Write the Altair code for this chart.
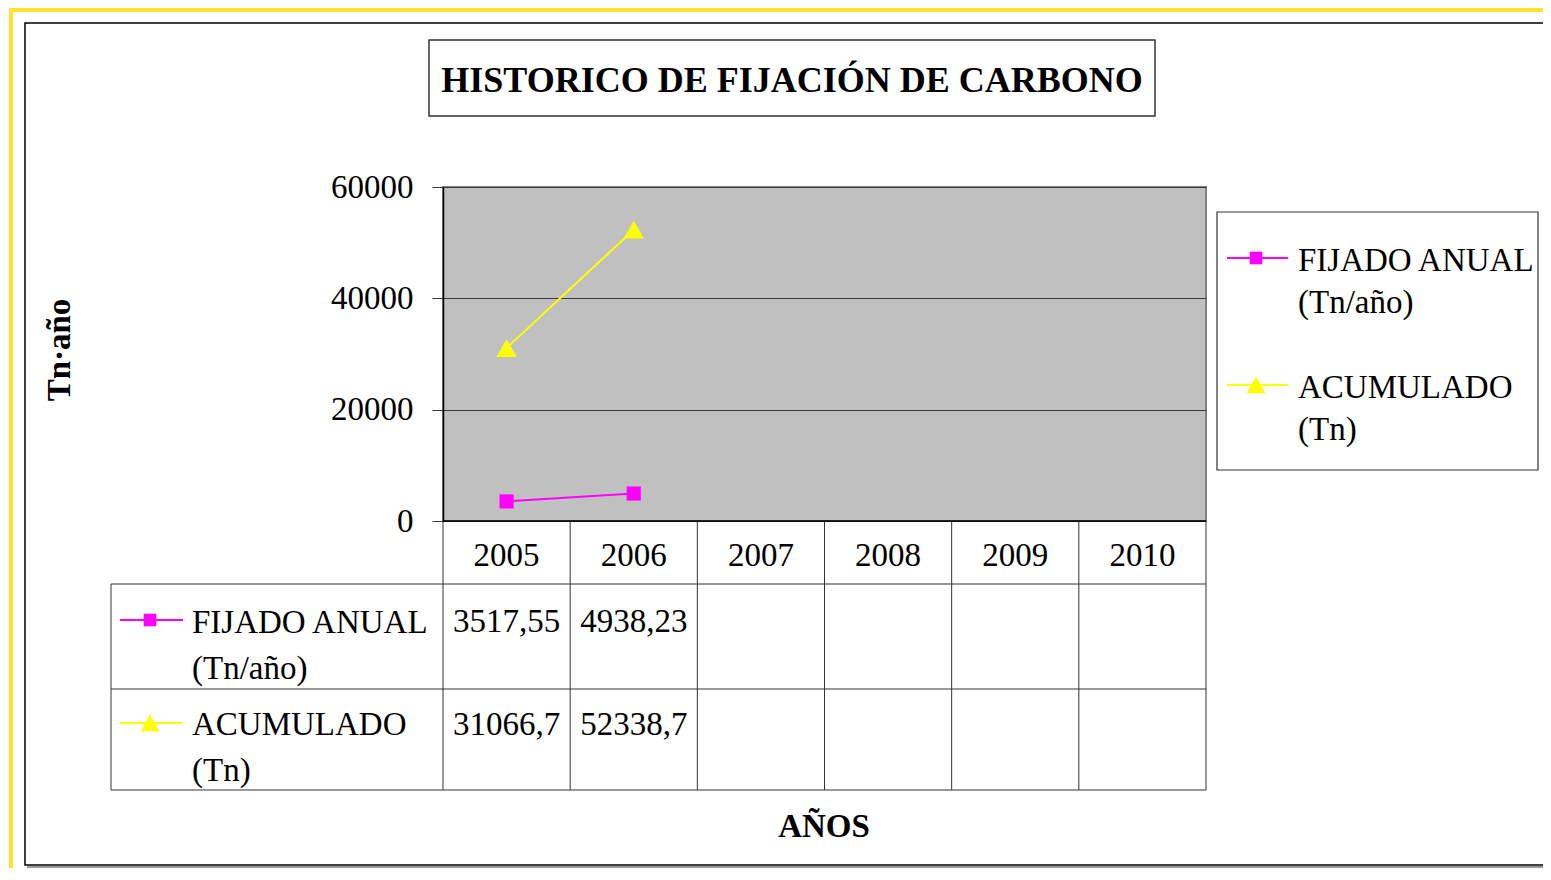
import altair as alt
import pandas as pd

# ---------------- data ----------------
years = ["2005", "2006", "2007", "2008", "2009", "2010"]
data_years = ["2005", "2006"]
series_names = ["FIJADO ANUAL (Tn/año)", "ACUMULADO (Tn)"]
series_lines = [["FIJADO ANUAL", "(Tn/año)"], ["ACUMULADO", "(Tn)"]]
fijado_anual = [3517.55, 4938.23]
acumulado = [31066.7, 52338.7]
series_values = [fijado_anual, acumulado]
series_colors = ["#FF00FF", "#FFFF00"]
series_shapes = ["square", "triangle-up"]
y_ticks = [0, 20000, 40000, 60000]
title_text = "HISTORICO DE FIJACIÓN DE CARBONO"
y_title = "Tn·año"
x_title = "AÑOS"

rows = []
for name, vals in zip(series_names, series_values):
    for yr, v in zip(data_years, vals):
        rows.append({"year": yr, "serie": name, "value": v,
                     "label": str(v).replace(".", ",")})
df = pd.DataFrame(rows)
years_df = pd.DataFrame({"year": years})
one = pd.DataFrame({"k": [0]})

FONT = "Liberation Serif"
FS = 33
W, H = 763, 334
GRID = "#3a3a3a"
PLOT_SIZES = [200, 420]
LEG_SIZES = [160, 360]

xscale = alt.Scale(type="band", domain=years, paddingInner=0, paddingOuter=0)
cscale = alt.Scale(domain=series_names, range=series_colors)
sscale = alt.Scale(domain=series_names, range=series_shapes)
zscale = alt.Scale(domain=series_names, range=PLOT_SIZES)

layers = []

# ---- outer decorations ----
layers.append(alt.Chart(one).mark_rule(color="#FFE22E", strokeWidth=4).encode(
    x=alt.value(-432), y=alt.value(-180), y2=alt.value(700)))
layers.append(alt.Chart(one).mark_rule(color="#FFE22E", strokeWidth=4).encode(
    x=alt.value(-434), x2=alt.value(1200), y=alt.value(-177)))
layers.append(alt.Chart(one).mark_rule(color="#9a9a9a", strokeWidth=2).encode(
    x=alt.value(-416), x2=alt.value(1200), y=alt.value(680)))
layers.append(alt.Chart(one).mark_rect(fill="transparent", stroke="black", strokeWidth=1.5).encode(
    x=alt.value(-418), x2=alt.value(1200), y=alt.value(-164), y2=alt.value(678)))

# ---- title box ----
layers.append(alt.Chart(one).mark_rect(fill="white", stroke="#333333", strokeWidth=1.5).encode(
    x=alt.value(-14), x2=alt.value(712), y=alt.value(-147), y2=alt.value(-71)))
layers.append(alt.Chart(one).mark_text(font=FONT, fontSize=36, fontWeight="bold",
                                       align="center", baseline="alphabetic", color="black").encode(
    x=alt.value(349), y=alt.value(-95), text=alt.value(title_text)))

# ---- axis titles ----
layers.append(alt.Chart(one).mark_text(font=FONT, fontSize=33, fontWeight="bold", angle=270,
                                       align="center", baseline="middle", color="black").encode(
    x=alt.value(-383), y=alt.value(163), text=alt.value(y_title)))
layers.append(alt.Chart(one).mark_text(font=FONT, fontSize=33, fontWeight="bold",
                                       align="center", baseline="middle", color="black").encode(
    x=alt.value(381), y=alt.value(640), text=alt.value(x_title)))

# ---- data table grid ----
TC = "#333333"
T0, T1, T2, T3 = H, H + 63, H + 168, H + 269
layers.append(alt.Chart(years_df).mark_rule(color=TC, strokeWidth=1).encode(
    x=alt.X("year:N", scale=xscale, bandPosition=0, axis=None),
    y=alt.value(T0), y2=alt.value(T3)))
layers.append(alt.Chart(one).mark_rule(color=TC, strokeWidth=1).encode(
    x=alt.value(W), y=alt.value(T0), y2=alt.value(T3)))
layers.append(alt.Chart(one).mark_rule(color=TC, strokeWidth=1).encode(
    x=alt.value(-332), y=alt.value(T1), y2=alt.value(T3)))
for yy in (T1, T2, T3):
    layers.append(alt.Chart(one).mark_rule(color=TC, strokeWidth=1).encode(
        x=alt.value(-332), x2=alt.value(W), y=alt.value(yy)))
# x axis line
layers.append(alt.Chart(one).mark_rule(color="black", strokeWidth=1.5).encode(
    x=alt.value(0), x2=alt.value(W), y=alt.value(H)))

# year labels (category axis row of the table)
layers.append(alt.Chart(years_df).mark_text(font=FONT, fontSize=FS, align="center",
                                            baseline="alphabetic", color="black").encode(
    x=alt.X("year:N", scale=xscale, axis=None), y=alt.value(H + 45), text="year:N"))

# ---- lines and points ----
base = alt.Chart(df).encode(
    x=alt.X("year:N", scale=xscale, axis=None),
    y=alt.Y("value:Q", scale=alt.Scale(domain=[0, 60000], nice=False), title=None,
            axis=alt.Axis(values=y_ticks, format="d", labelFont=FONT, labelFontSize=FS,
                          labelColor="black", tickSize=11, tickColor=GRID, labelPadding=19,
                          domainColor="black", domainWidth=1.5, gridColor=GRID, gridWidth=1.2)),
    color=alt.Color("serie:N", scale=cscale, legend=None),
)
layers.append(base.mark_line(strokeWidth=2))
layers.append(base.mark_point(filled=True, opacity=1).encode(
    shape=alt.Shape("serie:N", scale=sscale, legend=None),
    size=alt.Size("serie:N", scale=zscale, legend=None)))

# ---- data table rows and legend ----
for i, (name, lines, col, shp) in enumerate(zip(series_names, series_lines,
                                                series_colors, series_shapes)):
    layers.append(alt.Chart(df).transform_filter(alt.datum.serie == name).mark_text(
        font=FONT, fontSize=FS, align="center", baseline="alphabetic", color="black").encode(
        x=alt.X("year:N", scale=xscale, axis=None),
        y=alt.value(445 + 103 * i), text="label:N"))
    ty = 433 + 103 * i
    layers.append(alt.Chart(one).mark_rule(color=col, strokeWidth=2).encode(
        x=alt.value(-323), x2=alt.value(-260), y=alt.value(ty)))
    layers.append(alt.Chart(one).mark_point(shape=shp, filled=True, size=LEG_SIZES[i],
                                            color=col, opacity=1).encode(
        x=alt.value(-293), y=alt.value(ty)))
    layers.append(alt.Chart(one).mark_text(font=FONT, fontSize=FS, align="left", baseline="alphabetic",
                                           lineBreak="\n", lineHeight=46, color="black").encode(
        x=alt.value(-251), y=alt.value(446 + 102 * i), text=alt.value("\n".join(lines))))

# legend box
layers.append(alt.Chart(one).mark_rect(fill="white", stroke="#333333", strokeWidth=1.2).encode(
    x=alt.value(774), x2=alt.value(1095), y=alt.value(25), y2=alt.value(283)))
for i, (name, lines, col, shp) in enumerate(zip(series_names, series_lines,
                                                series_colors, series_shapes)):
    ly = 71 + 127 * i
    layers.append(alt.Chart(one).mark_rule(color=col, strokeWidth=2).encode(
        x=alt.value(784), x2=alt.value(845), y=alt.value(ly)))
    layers.append(alt.Chart(one).mark_point(shape=shp, filled=True, size=LEG_SIZES[i],
                                            color=col, opacity=1).encode(
        x=alt.value(813), y=alt.value(ly)))
    layers.append(alt.Chart(one).mark_text(font=FONT, fontSize=FS, align="left", baseline="alphabetic",
                                           lineBreak="\n", lineHeight=42, color="black").encode(
        x=alt.value(855), y=alt.value(84 + 127 * i), text=alt.value("\n".join(lines))))

chart = alt.layer(*layers).properties(
    width=W, height=H,
    padding={"left": 435, "top": 179, "right": 337, "bottom": 347},
    autosize=alt.AutoSizeParams(type="none"),
    background="white",
).configure_view(fill="#C0C0C0", stroke="#808080", strokeWidth=2)

chart.save("out.html", embed_options={"renderer": "svg", "actions": False})
